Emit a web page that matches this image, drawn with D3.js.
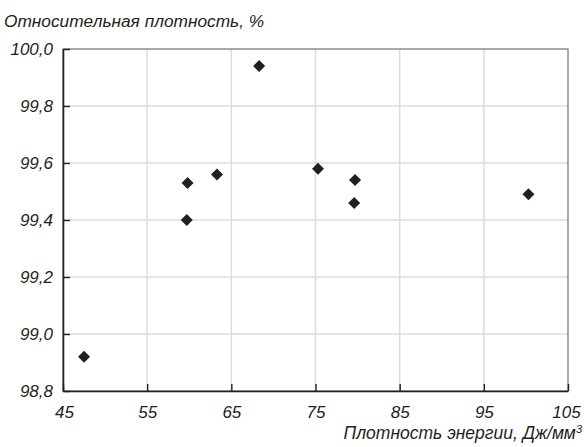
<html>
<head>
<meta charset="utf-8">
<script src="https://d3js.org/d3.v7.min.js"></script>
<style>
  body { margin: 0; background: #fff; }
</style>
</head>
<body>
<div id="chart"></div>
<script>
// energy density (J/mm3) vs relative density (%)
const energy  = [47.5, 59.8, 59.7, 63.3, 68.3, 75.3, 79.7, 79.6, 100.3];
const density = [98.92, 99.53, 99.40, 99.56, 99.94, 99.58, 99.54, 99.46, 99.49];
const xTicks = [45, 55, 65, 75, 85, 95, 105];
const yTicks = [98.8, 99.0, 99.2, 99.4, 99.6, 99.8, 100.0];

const W = 584, H = 447;
const margin = {top: 49, right: 16, bottom: 56, left: 63};
const width = W - margin.left - margin.right,
      height = H - margin.top - margin.bottom;
const font = "'Liberation Sans', Arial, sans-serif";

const svg = d3.select("#chart").append("svg")
  .attr("width", W).attr("height", H);
const g = svg.append("g").attr("transform", `translate(${margin.left},${margin.top})`);

const x = d3.scaleLinear().domain([45, 105]).range([0, width]);
const y = d3.scaleLinear().domain([98.8, 100.0]).range([height, 0]);

// grid
g.append("g").selectAll("line").data(xTicks.slice(1, -1)).join("line")
  .attr("x1", d => x(d)).attr("x2", d => x(d))
  .attr("y1", 0).attr("y2", height)
  .attr("stroke", "#dcdcdc").attr("stroke-width", 1.5);
g.append("g").selectAll("line").data(yTicks.slice(1, -1)).join("line")
  .attr("y1", d => y(d)).attr("y2", d => y(d))
  .attr("x1", 0).attr("x2", width)
  .attr("stroke", "#dcdcdc").attr("stroke-width", 1.5);

// frame
g.append("rect").attr("width", width).attr("height", height)
  .attr("fill", "none").attr("stroke", "#555").attr("stroke-width", 1);

// axes
const fmt = d => d3.format(".1f")(d).replace(".", ",");
const xAxis = g.append("g").attr("transform", `translate(0,${height})`)
  .call(d3.axisBottom(x).tickValues(xTicks).tickSizeInner(-7).tickSizeOuter(0).tickPadding(15).tickFormat(d3.format("d")));
const yAxis = g.append("g")
  .call(d3.axisLeft(y).tickValues(yTicks).tickSizeInner(-7).tickSizeOuter(0).tickPadding(10).tickFormat(fmt));
[xAxis, yAxis].forEach(a => {
  a.select(".domain").attr("stroke", "#231f20").attr("stroke-width", 1.6);
  a.selectAll(".tick line").attr("stroke", "#231f20").attr("stroke-width", 1.4);
  a.selectAll(".tick text")
    .style("font-family", font).style("font-style", "italic")
    .style("font-size", "17px").attr("fill", "#231f20");
});
xAxis.selectAll(".tick text").filter(d => d === 45 || d === 105).each(function(d) {
  d3.select(this).attr("x", d === 45 ? 1 : -2);
});

// points
g.append("g").selectAll("path").data(energy.map((e, i) => [e, density[i]])).join("path")
  .attr("d", d3.symbol().type(d3.symbolSquare).size(72))
  .attr("transform", d => `translate(${x(d[0])},${y(d[1])}) rotate(45)`)
  .attr("fill", "#231f20");

// axis titles
svg.append("text").attr("x", 4).attr("y", 27)
  .style("font-family", font).style("font-style", "italic")
  .style("font-size", "17.3px").attr("fill", "#231f20")
  .text("Относительная плотность, %");
const xl = svg.append("text").attr("x", W - 2).attr("y", 439)
  .attr("text-anchor", "end")
  .style("font-family", font).style("font-style", "italic")
  .style("font-size", "17.5px").attr("fill", "#231f20");
xl.append("tspan").text("Плотность энергии, Дж/мм");
xl.append("tspan").attr("dy", -6).style("font-size", "11px").text("3");
</script>
</body>
</html>
